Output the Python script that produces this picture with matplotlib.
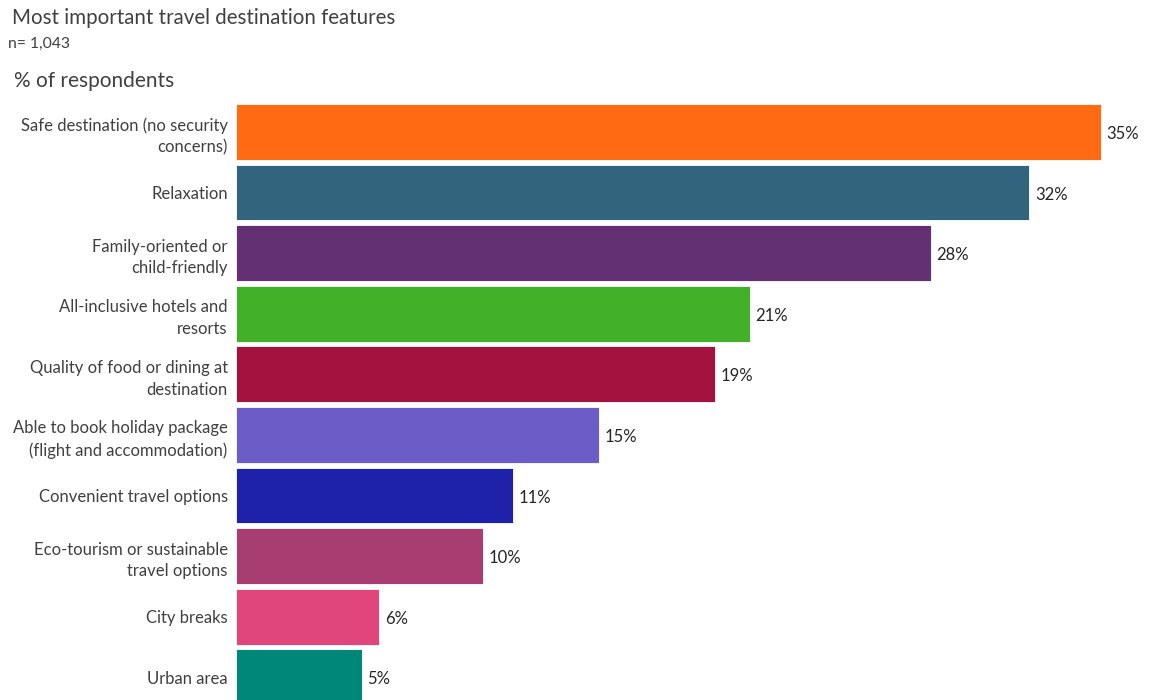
import matplotlib.pyplot as plt

plt.rcParams['font.family'] = ['Lato', 'DejaVu Sans']

# ── data ────────────────────────────────────────────────────────────────
categories = [
    "Safe destination (no security\nconcerns)",
    "Relaxation",
    "Family-oriented or\nchild-friendly",
    "All-inclusive hotels and\nresorts",
    "Quality of food or dining at\ndestination",
    "Able to book holiday package\n(flight and accommodation)",
    "Convenient travel options",
    "Eco-tourism or sustainable\ntravel options",
    "City breaks",
    "Urban area",
]
values = [35.0, 32.1, 28.1, 20.8, 19.4, 14.7, 11.2, 10.0, 5.8, 5.1]
value_labels = ["35%", "32%", "28%", "21%", "19%", "15%", "11%", "10%", "6%", "5%"]
colors = ["#FF6A13", "#33647E", "#633073", "#43B02A", "#A4123F",
          "#6B5CC8", "#1E22AA", "#A83D72", "#E0457B", "#00877A"]

TEXT = "#404040"

fig = plt.figure(figsize=(11.5, 7), dpi=100)
ax = fig.add_axes([0.2052, 0.0, 0.7948, 0.8557])

ypos = list(range(len(values)))
ax.barh(ypos, values, height=0.92, color=colors, edgecolor="white", linewidth=0.6)

for y, v, lab in zip(ypos, values, value_labels):
    ax.annotate(lab, (v, y), xytext=(4, -1.5), textcoords="offset points",
                ha="left", va="center", fontsize=12, color="#262626")

ax.set_xlim(0, 36.98)
ax.set_ylim(9.375, -0.51)
ax.set_yticks(ypos)
ax.set_yticklabels(categories, fontsize=12, color=TEXT, linespacing=1.45)
ax.tick_params(axis="y", length=0, pad=6)
ax.set_xticks([])
for s in ax.spines.values():
    s.set_visible(False)

fig.text(12 / 1150, 1 - 18 / 700, "Most important travel destination features",
         fontsize=14.8, color=TEXT, ha="left", va="center")
fig.text(8 / 1150, 1 - 44 / 700, "n= 1,043",
         fontsize=11.3, color=TEXT, ha="left", va="center")
fig.text(14 / 1150, 1 - 81 / 700, "% of respondents",
         fontsize=15, color=TEXT, ha="left", va="center")

fig.savefig("out.png", dpi=100)
